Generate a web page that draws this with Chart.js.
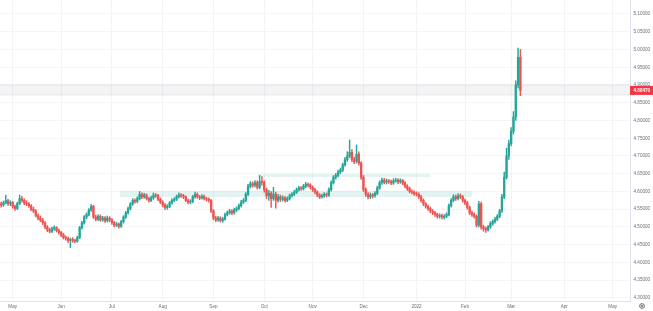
<!DOCTYPE html>
<html>
<head>
<meta charset="utf-8">
<script src="https://cdn.jsdelivr.net/npm/chart.js@4.4.1/dist/chart.umd.min.js"></script>
<style>
html,body{margin:0;padding:0;background:#ffffff;}
#wrap{width:653px;height:311px;}
</style>
</head>
<body>
<div id="wrap"><canvas id="c" width="653" height="311"></canvas></div>
<script>
// ---- DATA (EUR/PLN style daily candles) ----
const openP = [
4.565,4.562,4.568,4.574,4.566,4.569,4.558,4.552,4.566,4.580,
4.575,4.568,4.565,4.560,4.550,4.545,4.532,4.525,4.520,4.512,
4.500,4.492,4.488,4.495,4.498,4.490,4.485,4.478,4.470,4.468,
4.462,4.465,4.462,4.460,4.470,4.498,4.512,4.528,4.535,4.548,
4.558,4.528,4.522,4.530,4.520,4.525,4.518,4.525,4.520,4.512,
4.505,4.508,4.502,4.515,4.528,4.540,4.552,4.565,4.575,4.572,
4.580,4.592,4.585,4.590,4.580,4.575,4.582,4.590,4.588,4.578,
4.570,4.562,4.555,4.558,4.568,4.575,4.578,4.585,4.590,4.588,
4.585,4.575,4.570,4.572,4.585,4.592,4.585,4.582,4.586,4.580,
4.578,4.575,4.545,4.525,4.520,4.525,4.518,4.522,4.535,4.540,
4.545,4.540,4.548,4.552,4.560,4.570,4.575,4.592,4.615,4.622,
4.618,4.625,4.612,4.628,4.625,4.605,4.588,4.595,4.580,4.592,
4.575,4.585,4.578,4.582,4.575,4.580,4.588,4.592,4.598,4.605,
4.610,4.608,4.615,4.620,4.618,4.612,4.605,4.598,4.590,4.585,
4.588,4.592,4.590,4.605,4.625,4.640,4.645,4.655,4.660,4.675,
4.690,4.700,4.710,4.690,4.685,4.705,4.680,4.640,4.605,4.592,
4.585,4.590,4.588,4.595,4.610,4.625,4.632,4.626,4.630,4.628,
4.624,4.630,4.632,4.627,4.631,4.624,4.615,4.608,4.600,4.598,
4.594,4.592,4.585,4.575,4.565,4.558,4.552,4.545,4.540,4.535,
4.530,4.532,4.528,4.530,4.535,4.560,4.575,4.585,4.580,4.588,
4.585,4.575,4.568,4.555,4.540,4.535,4.530,4.505,4.565,4.500,
4.495,4.492,4.500,4.510,4.515,4.522,4.530,4.545,4.585,4.640,
4.700,4.735,4.770,4.810,4.900,4.978
];
const highP = [
4.570,4.573,4.590,4.578,4.574,4.572,4.562,4.570,4.590,4.586,
4.579,4.574,4.569,4.563,4.556,4.549,4.537,4.531,4.524,4.515,
4.504,4.497,4.500,4.503,4.501,4.494,4.488,4.482,4.475,4.472,
4.469,4.470,4.466,4.474,4.502,4.516,4.532,4.540,4.552,4.564,
4.561,4.533,4.535,4.534,4.530,4.529,4.531,4.529,4.524,4.516,
4.513,4.512,4.519,4.532,4.544,4.557,4.569,4.580,4.579,4.585,
4.600,4.596,4.595,4.593,4.584,4.587,4.596,4.594,4.592,4.582,
4.574,4.566,4.563,4.572,4.580,4.583,4.590,4.596,4.594,4.592,
4.588,4.579,4.577,4.589,4.598,4.596,4.589,4.591,4.590,4.584,
4.582,4.578,4.549,4.530,4.530,4.529,4.527,4.539,4.545,4.550,
4.549,4.553,4.557,4.565,4.575,4.580,4.597,4.620,4.628,4.627,
4.631,4.630,4.645,4.642,4.630,4.610,4.603,4.600,4.612,4.598,
4.592,4.590,4.588,4.586,4.585,4.593,4.597,4.603,4.610,4.615,
4.614,4.620,4.626,4.624,4.622,4.616,4.609,4.602,4.594,4.593,
4.597,4.596,4.610,4.630,4.645,4.651,4.660,4.666,4.680,4.696,
4.712,4.745,4.718,4.696,4.731,4.712,4.684,4.645,4.610,4.597,
4.596,4.594,4.600,4.615,4.630,4.638,4.637,4.635,4.634,4.632,
4.636,4.637,4.636,4.636,4.634,4.628,4.619,4.612,4.605,4.602,
4.599,4.596,4.589,4.579,4.569,4.562,4.556,4.549,4.544,4.539,
4.537,4.536,4.535,4.540,4.565,4.580,4.591,4.590,4.594,4.593,
4.589,4.579,4.572,4.559,4.545,4.540,4.534,4.572,4.570,4.505,
4.500,4.505,4.515,4.520,4.527,4.535,4.550,4.592,4.655,4.722,
4.745,4.780,4.825,4.912,5.004,5.000
];
const lowP = [
4.556,4.558,4.565,4.561,4.560,4.553,4.547,4.549,4.563,4.570,
4.563,4.560,4.555,4.546,4.540,4.528,4.520,4.515,4.507,4.495,
4.487,4.483,4.484,4.490,4.486,4.480,4.473,4.466,4.463,4.456,
4.442,4.457,4.455,4.457,4.467,4.494,4.508,4.523,4.531,4.544,
4.524,4.517,4.518,4.516,4.516,4.513,4.514,4.515,4.507,4.500,
4.501,4.497,4.499,4.511,4.524,4.536,4.548,4.561,4.567,4.568,
4.576,4.580,4.581,4.576,4.570,4.571,4.578,4.583,4.574,4.566,
4.557,4.549,4.550,4.554,4.564,4.571,4.574,4.581,4.583,4.580,
4.571,4.565,4.565,4.568,4.581,4.581,4.577,4.578,4.576,4.573,
4.570,4.541,4.520,4.515,4.516,4.514,4.513,4.519,4.531,4.536,
4.535,4.536,4.543,4.548,4.556,4.566,4.571,4.588,4.610,4.612,
4.613,4.607,4.608,4.618,4.598,4.580,4.575,4.555,4.575,4.553,
4.570,4.572,4.573,4.570,4.571,4.576,4.584,4.588,4.594,4.601,
4.603,4.604,4.611,4.613,4.607,4.600,4.593,4.585,4.580,4.581,
4.583,4.585,4.586,4.601,4.621,4.635,4.641,4.650,4.656,4.671,
4.685,4.695,4.684,4.678,4.680,4.674,4.634,4.600,4.586,4.579,
4.580,4.582,4.584,4.591,4.606,4.620,4.621,4.621,4.623,4.619,
4.620,4.626,4.622,4.623,4.619,4.611,4.603,4.596,4.593,4.589,
4.587,4.580,4.570,4.560,4.553,4.547,4.540,4.535,4.530,4.525,
4.525,4.523,4.522,4.526,4.531,4.556,4.571,4.575,4.576,4.580,
4.570,4.563,4.550,4.535,4.530,4.525,4.500,4.500,4.494,4.488,
4.485,4.488,4.496,4.505,4.511,4.518,4.526,4.541,4.580,4.635,
4.690,4.728,4.762,4.800,4.892,4.870
];
const closeP = [
4.562,4.568,4.574,4.566,4.569,4.558,4.552,4.566,4.580,4.575,
4.568,4.565,4.560,4.550,4.545,4.532,4.525,4.520,4.512,4.500,
4.492,4.488,4.495,4.498,4.490,4.485,4.478,4.470,4.468,4.462,
4.465,4.462,4.460,4.470,4.498,4.512,4.528,4.535,4.548,4.558,
4.528,4.522,4.530,4.520,4.525,4.518,4.525,4.520,4.512,4.505,
4.508,4.502,4.515,4.528,4.540,4.552,4.565,4.575,4.572,4.580,
4.592,4.585,4.590,4.580,4.575,4.582,4.590,4.588,4.578,4.570,
4.562,4.555,4.558,4.568,4.575,4.578,4.585,4.590,4.588,4.585,
4.575,4.570,4.572,4.585,4.592,4.585,4.582,4.586,4.580,4.578,
4.575,4.545,4.525,4.520,4.525,4.518,4.522,4.535,4.540,4.545,
4.540,4.548,4.552,4.560,4.570,4.575,4.592,4.615,4.622,4.618,
4.625,4.612,4.628,4.625,4.605,4.588,4.595,4.580,4.592,4.575,
4.585,4.578,4.582,4.575,4.580,4.588,4.592,4.598,4.605,4.610,
4.608,4.615,4.620,4.618,4.612,4.605,4.598,4.590,4.585,4.588,
4.592,4.590,4.605,4.625,4.640,4.645,4.655,4.660,4.675,4.690,
4.700,4.710,4.690,4.685,4.705,4.680,4.640,4.605,4.592,4.585,
4.590,4.588,4.595,4.610,4.625,4.632,4.626,4.630,4.628,4.624,
4.630,4.632,4.627,4.631,4.624,4.615,4.608,4.600,4.598,4.594,
4.592,4.585,4.575,4.565,4.558,4.552,4.545,4.540,4.535,4.530,
4.532,4.528,4.530,4.535,4.560,4.575,4.585,4.580,4.588,4.585,
4.575,4.568,4.555,4.540,4.535,4.530,4.505,4.565,4.500,4.495,
4.492,4.500,4.510,4.515,4.522,4.530,4.545,4.585,4.640,4.700,
4.735,4.770,4.810,4.900,4.978,4.8847
];
// price-axis tick labels
const priceTicks = [4.30,4.35,4.40,4.45,4.50,4.55,4.60,4.65,4.70,4.75,4.80,4.85,4.90,4.95,5.00,5.05,5.10];
// time-axis tick labels (first trading day of each month)
const monthLabels = ['May','Jun','Jul','Aug','Sep','Oct','Nov','Dec','2022','Feb','Mar','Apr','May'];
// drawn zones (in data units: slot index & price)
const zoneStart = [51.5, 111];
const zoneEnd   = [204, 186];
const zoneLow   = [4.5845, 4.641];
const zoneHigh  = [4.601, 4.649];
const bandLow = 4.8718, bandHigh = 4.900;

// categories: weekday trading days from 26 Apr 2021, extended into the future
const firstDay = Date.UTC(2021, 3, 26);
const slotCount = 273;
const dates = [];
for (let d = firstDay; dates.length < slotCount; d += 86400000) {
  const wd = new Date(d).getUTCDay();
  if (wd !== 0 && wd !== 6) dates.push(new Date(d));
}
const labels = dates.map(d => d.toISOString().slice(0, 10));
const monthTickIdx = [];
for (let i = 1; i < dates.length; i++) {
  if (dates[i].getUTCMonth() !== dates[i - 1].getUTCMonth()) monthTickIdx.push(i);
}

const UP = '#26a69a', DOWN = '#ef5350';
const barColors = closeP.map((c, i) => c >= openP[i] ? UP : DOWN);
const wickData = lowP.map((l, i) => [l, highP[i]]);
const bodyData = openP.map((o, i) => [o, closeP[i]]);
const lastClose = closeP[closeP.length - 1];

const FONT = 'Liberation Sans, Arial, sans-serif';

const overlayPlugin = {
  id: 'overlay',
  beforeDatasetsDraw(chart) {
    const {ctx, chartArea, scales: {x, y}} = chart;
    ctx.save();
    ctx.beginPath();
    ctx.rect(chartArea.left, chartArea.top, chartArea.right - chartArea.left, chartArea.bottom - chartArea.top);
    ctx.clip();
    // gray band across the full width
    const by1 = y.getPixelForValue(bandHigh), by0 = y.getPixelForValue(bandLow);
    ctx.fillStyle = 'rgba(120,123,134,0.09)';
    ctx.fillRect(chartArea.left, by1, chartArea.right - chartArea.left, by0 - by1);
    ctx.strokeStyle = 'rgba(120,123,134,0.22)';
    ctx.lineWidth = 0.6;
    ctx.strokeRect(chartArea.left - 1, by1, chartArea.right - chartArea.left + 2, by0 - by1);
    // teal zones
    ctx.fillStyle = 'rgba(38,166,154,0.13)';
    for (let k = 0; k < zoneStart.length; k++) {
      const x0 = x.getPixelForValue(zoneStart[k]), x1 = x.getPixelForValue(zoneEnd[k]);
      const y0 = y.getPixelForValue(zoneHigh[k]), y1 = y.getPixelForValue(zoneLow[k]);
      ctx.fillRect(x0, y0, x1 - x0, y1 - y0);
    }
    ctx.restore();
  },
  afterDraw(chart) {
    const {ctx, chartArea, scales: {y}} = chart;
    const py = y.getPixelForValue(lastClose);
    ctx.save();
    ctx.fillStyle = '#f23645';
    ctx.fillRect(chartArea.right, py - 4.5, chart.width - chartArea.right, 9);
    ctx.fillStyle = '#ffffff';
    ctx.font = 'bold 4.6px ' + FONT;
    ctx.textBaseline = 'middle';
    ctx.textAlign = 'left';
    ctx.fillText(lastClose.toFixed(5), chartArea.right + 3.5, py + 0.3);
    // settings gear icon in the corner
    ctx.strokeStyle = '#555';
    ctx.lineWidth = 0.8;
    ctx.beginPath();
    ctx.arc(chart.width - 11, chart.height - 5, 2.4, 0, Math.PI * 2);
    ctx.stroke();
    ctx.beginPath();
    ctx.arc(chart.width - 11, chart.height - 5, 0.9, 0, Math.PI * 2);
    ctx.stroke();
    ctx.restore();
  }
};

new Chart(document.getElementById('c'), {
  type: 'bar',
  data: {
    labels: labels,
    datasets: [
      {
        label: 'wick',
        data: wickData,
        backgroundColor: barColors,
        barThickness: 0.8,
        grouped: false,
        borderWidth: 0,
        order: 2
      },
      {
        label: 'body',
        data: bodyData,
        backgroundColor: barColors,
        barThickness: 1.7,
        grouped: false,
        borderWidth: 0,
        order: 1
      }
    ]
  },
  options: {
    responsive: false,
    animation: false,
    devicePixelRatio: 1,
    layout: {padding: 0},
    plugins: {legend: {display: false}, tooltip: {enabled: false}},
    scales: {
      x: {
        type: 'category',
        offset: true,
        grid: {color: '#f1f3f8', lineWidth: 1, offset: false, drawTicks: false},
        border: {color: '#e0e3eb'},
        afterBuildTicks: (axis) => { axis.ticks = monthTickIdx.map(v => ({value: v})); },
        ticks: {
          autoSkip: false, maxRotation: 0, minRotation: 0, padding: 2.5,
          color: '#6a6d78', font: {size: 4.6, family: FONT},
          callback: (v, i) => monthLabels[i]
        },
        afterFit: (axis) => {
          axis.height = 10;
          axis.paddingLeft = 0; axis.paddingRight = 0; axis.paddingTop = 0; axis.paddingBottom = 0;
        }
      },
      y: {
        type: 'linear',
        position: 'right',
        min: 4.2915,
        max: 5.1394,
        grid: {color: '#f3f5f9', lineWidth: 1, drawTicks: false},
        border: {color: '#e0e3eb'},
        afterBuildTicks: (axis) => { axis.ticks = priceTicks.map(v => ({value: v})); },
        ticks: {
          autoSkip: false, padding: 3.5,
          color: '#6a6d78', font: {size: 4.6, family: FONT},
          callback: (v) => Number(v).toFixed(5)
        },
        afterFit: (axis) => {
          axis.width = 23;
          axis.paddingLeft = 0; axis.paddingRight = 0; axis.paddingTop = 0; axis.paddingBottom = 0;
        }
      }
    }
  },
  plugins: [overlayPlugin]
});
</script>
</body>
</html>
